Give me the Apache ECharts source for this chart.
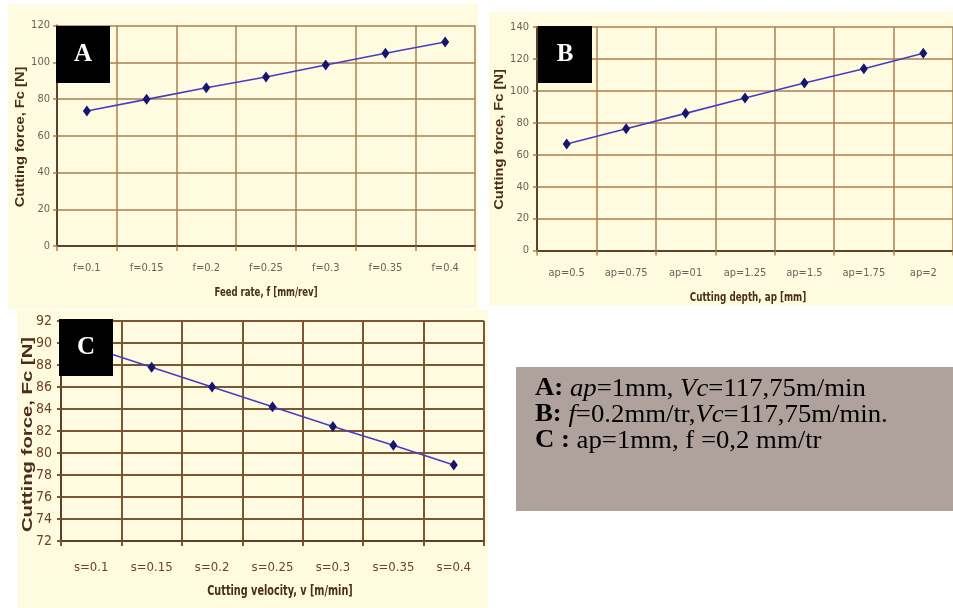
<!DOCTYPE html>
<html>
<head>
<meta charset="utf-8">
<script src="https://cdn.jsdelivr.net/npm/echarts@6/dist/echarts.min.js"></script>
<style>
  html, body { margin: 0; padding: 0; background: #ffffff; }
  #chart { width: 953px; height: 608px; }
</style>
</head>
<body>
<div id="chart"></div>
<script>
// Cutting force measured against three machining parameters
const feedLabels = ['f=0.1', 'f=0.15', 'f=0.2', 'f=0.25', 'f=0.3', 'f=0.35', 'f=0.4'];
const feedForce = [73.5, 79.8, 86.1, 92.0, 98.5, 104.9, 111.0];

const depthLabels = ['ap=0.5', 'ap=0.75', 'ap=01', 'ap=1.25', 'ap=1.5', 'ap=1.75', 'ap=2'];
const depthForce = [66.7, 76.3, 85.9, 95.5, 104.9, 113.8, 123.5];

const velocityLabels = ['s=0.1', 's=0.15', 's=0.2', 's=0.25', 's=0.3', 's=0.35', 's=0.4'];
const velocityForce = [89.6, 87.8, 86.0, 84.2, 82.4, 80.7, 78.9];

// value-axis ranges (min, max, step)
const forceRangeA = [0, 120, 20];
const forceRangeB = [0, 140, 20];
const forceRangeC = [72, 92, 2];

const axisTitles = {
  y: 'Cutting force, Fc [N]',
  xA: 'Feed rate, f [mm/rev]',
  xB: 'Cutting depth, ap [mm]',
  xC: 'Cutting velocity, v [m/min]'
};

const conditions = [
  '{b|A:} {i|ap}=1mm, {i|Vc}=117,75m/min',
  '{b|B:} {i|f}=0.2mm/tr,{i|Vc}=117,75m/min.',
  '{b|C :} ap=1mm, f =0,2 mm/tr'
];

const NARROW = "'Liberation Sans Narrow', 'DejaVu Sans Condensed', 'Liberation Sans', sans-serif";
const SANS = "'Liberation Sans', Arial, sans-serif";
const SERIF = "'Liberation Serif', 'Times New Roman', serif";

const CREAM = '#fffbe1';
const AXIS_BROWN = '#5e4026';
const TITLE_BROWN = '#4a2e17';

function xAxisFor(gridIndex, labels, o) {
  return {
    type: 'category',
    gridIndex: gridIndex,
    data: labels,
    boundaryGap: true,
    axisLine: { show: true, lineStyle: { color: AXIS_BROWN, width: 2 } },
    axisTick: { show: true, interval: 0, length: 5, lineStyle: { color: o.gridColor, width: o.gridWidth } },
    axisLabel: { interval: 0, margin: o.labelMargin, fontFamily: NARROW, fontSize: o.labelSize, color: o.labelColor },
    splitLine: { show: true, interval: 0, lineStyle: { color: o.gridColor, width: o.gridWidth } }
  };
}

function yAxisFor(gridIndex, range, o) {
  return {
    type: 'value',
    gridIndex: gridIndex,
    min: range[0],
    max: range[1],
    interval: range[2],
    axisLine: { show: true, lineStyle: { color: AXIS_BROWN, width: 2 } },
    axisTick: { show: true, length: 4, lineStyle: { color: o.gridColor, width: o.gridWidth } },
    axisLabel: { margin: o.labelMargin, fontFamily: NARROW, fontSize: o.ySize || o.labelSize, color: o.labelColor },
    splitLine: { show: true, lineStyle: { color: o.gridColor, width: o.gridWidth } }
  };
}

function lineSeries(idx, values) {
  return {
    type: 'line',
    xAxisIndex: idx,
    yAxisIndex: idx,
    data: values,
    symbol: 'diamond',
    symbolSize: [8, 11],
    showSymbol: true,
    lineStyle: { color: '#4a3cc2', width: 1.6 },
    itemStyle: { color: '#15166e' },
    z: 5,
    animation: false
  };
}

const styleAB = { gridColor: '#a9824f', gridWidth: 1.5, labelColor: '#6d6259', labelSize: 11 };
const styleC = { gridColor: '#7b5631', gridWidth: 2, labelColor: '#6e4322', labelSize: 13, ySize: 14 };

function panelBox(x, y, w, h) {
  return { type: 'rect', shape: { x: x, y: y, width: w, height: h }, style: { fill: CREAM }, z: -10, silent: true };
}
function tag(letter, x, y) {
  return [
    { type: 'rect', shape: { x: x, y: y, width: 54, height: 57 }, style: { fill: '#000000' }, z: 100, silent: true },
    { type: 'text', x: x + 27, y: y + 29, z: 101, silent: true,
      style: { text: letter, fill: '#ffffff', font: 'bold 25px ' + SERIF, align: 'center', verticalAlign: 'middle' } }
  ];
}
// axis titles, slightly condensed or stretched along their reading direction
function axisTitle(text, x, y, font, stretch, vertical) {
  return { type: 'text', x: x, y: y, rotation: vertical ? Math.PI / 2 : 0, scaleX: stretch, z: 10, silent: true,
    style: { text: text, fill: TITLE_BROWN, font: font, align: 'center', verticalAlign: 'middle' } };
}

const richText = {
  b: { fontFamily: SERIF, fontSize: 25, fontWeight: 'bold', fill: '#000' },
  i: { fontFamily: SERIF, fontSize: 25, fontStyle: 'italic', fill: '#000' }
};
const conditionLines = conditions.map(function (t, k) {
  return { type: 'text', x: 535, y: 389 + k * 26, scaleX: 1.07, z: 20, silent: true,
    style: { text: t, rich: richText, fontFamily: SERIF, fontSize: 25, fill: '#000', verticalAlign: 'middle' } };
});

const chart = echarts.init(document.getElementById('chart'), null, { renderer: 'canvas' });
chart.setOption({
  animation: false,
  backgroundColor: '#ffffff',
  grid: [
    { left: 57, top: 25.5, width: 418, height: 220.5 },
    { left: 537, top: 27, width: 422, height: 223.5 },
    { left: 61, top: 321, width: 423, height: 220 }
  ],
  xAxis: [
    xAxisFor(0, feedLabels, Object.assign({ labelMargin: 17 }, styleAB)),
    xAxisFor(1, depthLabels, Object.assign({ labelMargin: 17 }, styleAB)),
    xAxisFor(2, velocityLabels, Object.assign({ labelMargin: 20 }, styleC))
  ],
  yAxis: [
    yAxisFor(0, forceRangeA, Object.assign({ labelMargin: 7 }, styleAB)),
    yAxisFor(1, forceRangeB, Object.assign({ labelMargin: 8 }, styleAB)),
    yAxisFor(2, forceRangeC, Object.assign({ labelMargin: 9 }, styleC))
  ],
  series: [
    lineSeries(0, feedForce),
    lineSeries(1, depthForce),
    lineSeries(2, velocityForce)
  ],
  graphic: [
    panelBox(8, 4, 470, 305),
    panelBox(489, 12, 464, 293),
    panelBox(17, 310, 471, 298),
    axisTitle(axisTitles.y, 21, 137, 'bold 12px ' + SANS, 1.22, true),
    axisTitle(axisTitles.y, 500, 139.5, 'bold 12px ' + SANS, 1.22, true),
    axisTitle(axisTitles.y, 28, 434.5, 'bold 14px ' + SANS, 1.45, true),
    axisTitle(axisTitles.xA, 266, 293, 'bold 13px ' + NARROW, 0.73, false),
    axisTitle(axisTitles.xB, 748, 298, 'bold 13px ' + NARROW, 0.75, false),
    axisTitle(axisTitles.xC, 280, 591, 'bold 14px ' + NARROW, 0.77, false)
  ].concat(
    tag('A', 56, 26),
    tag('B', 538, 26),
    tag('C', 59, 319),
    [{ type: 'rect', shape: { x: 516, y: 367, width: 437, height: 144 }, style: { fill: '#afa29c' }, z: 19, silent: true }],
    conditionLines
  )
});
</script>
</body>
</html>
